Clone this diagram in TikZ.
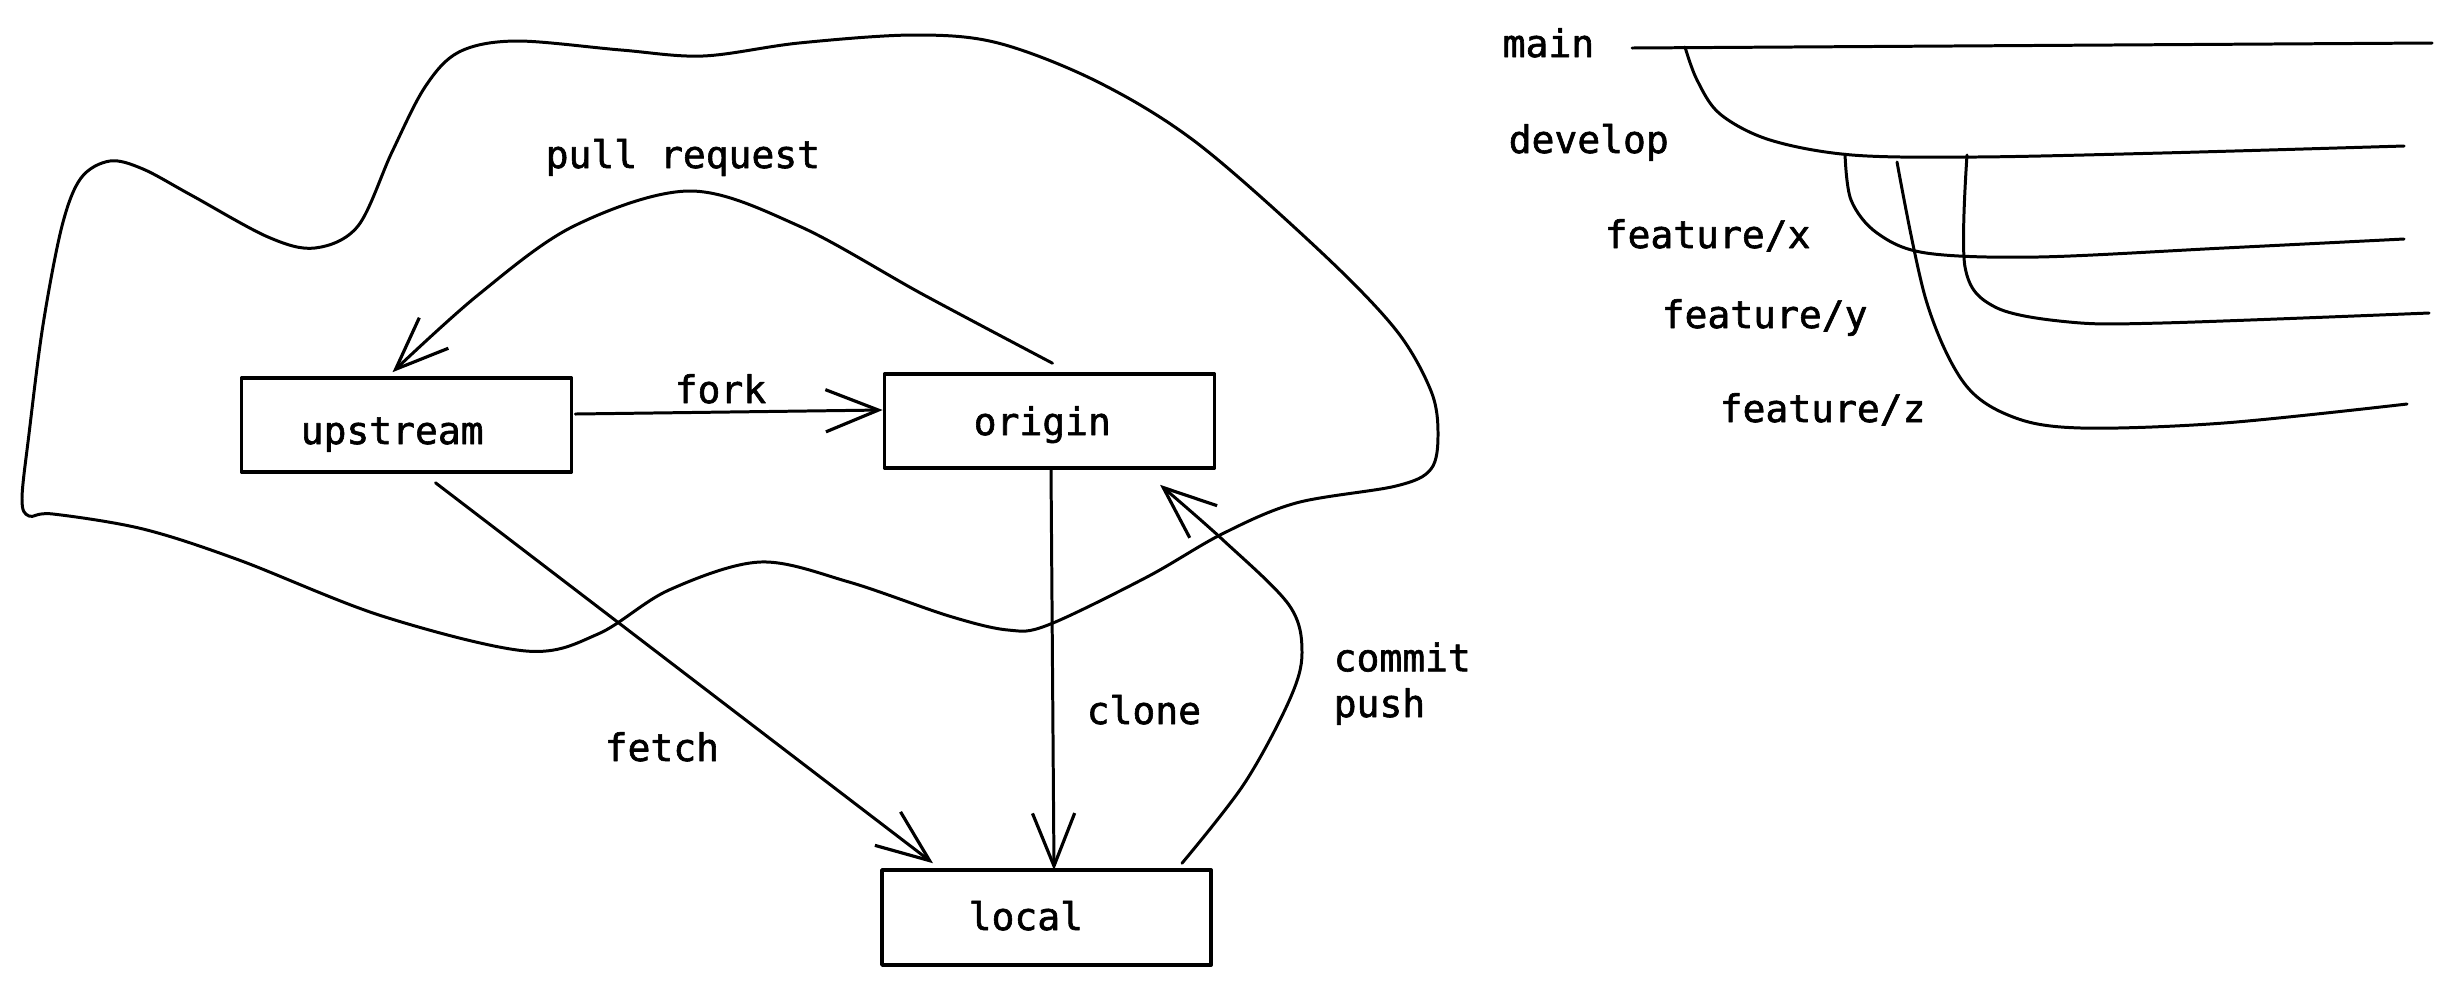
\documentclass[tikz,border=0pt]{standalone}
\usepackage{fontspec}
\setmonofont{DejaVu Sans Mono}[FakeBold=1.6]
\usetikzlibrary{arrows.meta,calc}
\begin{document}
\begin{tikzpicture}[x=0.01cm,y=-0.01cm,
  line cap=round, line join=round,
  stroke/.style={line width=0.85pt},
  box/.style={draw, line width=1pt, rectangle, inner sep=0pt, minimum width=3.3cm, minimum height=0.94cm},
  lbl/.style={inner sep=0pt, anchor=base west, font=\fontsize{10.8pt}{13pt}\selectfont\ttfamily},
  arr/.style={stroke, -{Straight Barb[length=15pt,width=12pt,line width=0.9pt]}}]
\useasboundingbox (0,0) rectangle (2452,984);

% boxes
\node[box] (up) at (406.5,425) {};
\node[box] (or) at (1049.5,421) {};
\node[box, minimum width=3.29cm, minimum height=0.95cm] (lo) at (1046.5,917.5) {};

% box texts
\node[lbl] (upT) at (300,444) {upstream};
\node[lbl] (orT) at (973,435) {origin};
\node[lbl] (loT) at (968,930) {local};

% cloud
\draw[stroke] plot[smooth cycle, tension=0.55] coordinates {
 (53,514) (143,529) (239,560) (382,616) (526,651) (598,634) (669,590) (760,562)
 (849,582) (949,616) (1008,630) (1048,625) (1147,577) (1222,534) (1296,503)
 (1396,486) (1431,469) (1438,434) (1431,391) (1396,330) (1321,252) (1197,143)
 (1098,82) (998,43) (914,35) (799,43) (703,56) (621,50) (516,41) (459,52)
 (425,87) (392,152) (358,226) (315,248) (268,237) (191,195) (143,169) (110,161)
 (81,178) (62,226) (43,325) (29,434) (22,499) (29,516)};

% connectors
\coordinate (forkS) at ($(up.east)+(2,-11)$);
\coordinate (forkE) at ($(or.west)+(0,-11)$);
\draw[arr] (forkS) -- (forkE);

\coordinate (prS) at ($(or.north)+(3,-9)$);
\coordinate (prE) at ($(up.north)+(-14,-4)$);
\draw[arr] plot[smooth, tension=0.55] coordinates {(prS) (924,295) (799,226) (690,191) (574,226) (478,295) (prE)};

\coordinate (feS) at ($(up.south)+(29,9)$);
\coordinate (feE) at ($(lo.north)+(-113.5,-5)$);
\draw[arr] (feS) -- (feE);

\coordinate (clS) at ($(or.south)+(1.5,-1)$);
\coordinate (clE) at ($(lo.north)+(7.5,2)$);
\draw[arr] (clS) -- (clE);

\coordinate (cpS) at ($(lo.north)+(135.5,-5)$);
\coordinate (cpE) at ($(or.south)+(110.5,15)$);
\draw[arr] plot[smooth, tension=0.55] coordinates {(cpS) (1244,784) (1289,701) (1302,653) (1289,605) (1223,540) (cpE)};

% edge labels
\node[lbl] (prL) at (545,168) {pull request};
\node[lbl] (forkL) at (674,403) {fork};
\node[lbl] (feL) at (604,761) {fetch};
\node[lbl] (clL) at (1086,724) {clone};
\node[lbl, align=left] (cpL) at (1333,717) {commit\\push};

% branches
\draw[stroke] (1632,48) -- (2432,43);
\draw[stroke] plot[smooth, tension=0.55] coordinates {(1685,47) (1697,80) (1720,114) (1770,140) (1852,155) (1976,157) (2162,153) (2404,146)};
\draw[stroke] plot[smooth, tension=0.55] coordinates {(1845,154) (1851,200) (1877,233) (1926,253) (2038,257) (2224,248) (2404,239)};
\draw[stroke] plot[smooth, tension=0.55] coordinates {(1967,155) (1965,267) (1995,307) (2069,322) (2162,323) (2429,313)};
\draw[stroke] plot[smooth, tension=0.55] coordinates {(1897,162) (1926,300) (1964,383) (2013,417) (2081,428) (2224,423) (2407,404)};

\node[lbl] (mainL) at (1502,57) {main};
\node[lbl] (devL) at (1508,153) {develop};
\node[lbl] (fxL) at (1604,248) {feature/x};
\node[lbl] (fyL) at (1661,328) {feature/y};
\node[lbl] (fzL) at (1719,422) {feature/z};
\end{tikzpicture}
\end{document}
